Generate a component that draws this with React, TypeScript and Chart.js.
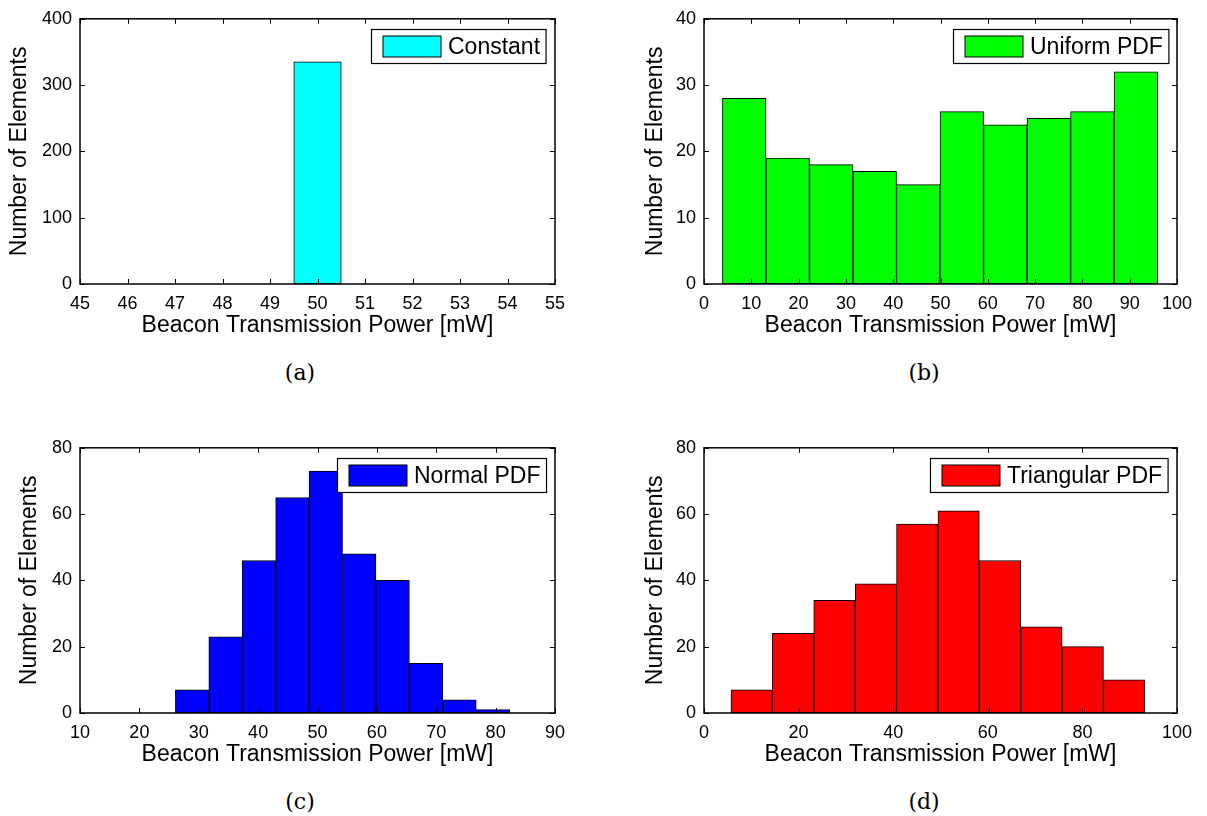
import React, { useEffect, useRef } from "react";
import { Chart, registerables } from "chart.js";

Chart.register(...registerables);

const SANS = '"Liberation Sans", Arial, Helvetica, sans-serif';
const SERIF = '"DejaVu Serif", "Liberation Serif", serif';

const X_TITLE = "Beacon Transmission Power [mW]";
const Y_TITLE = "Number of Elements";

// (a) constant beacon power: a single bin at 50 mW
const constantCenters = [50];
const constantCounts = [335];
const constantXAxis = [45, 55, 1];
const constantYAxis = [0, 400, 100];

// (b) uniform PDF
const uniformCenters = [8.5, 17.7, 26.9, 36.1, 45.3, 54.5, 63.7, 72.9, 82.1, 91.3];
const uniformCounts = [28, 19, 18, 17, 15, 26, 24, 25, 26, 32];
const uniformXAxis = [0, 100, 10];
const uniformYAxis = [0, 40, 10];

// (c) normal PDF
const normalCenters = [28.88, 34.51, 40.14, 45.77, 51.4, 57.03, 62.66, 68.29, 73.92, 79.55];
const normalCounts = [7, 23, 46, 65, 73, 48, 40, 15, 4, 1];
const normalXAxis = [10, 90, 10];
const normalYAxis = [0, 80, 20];

// (d) triangular PDF
const triangularCenters = [10.08, 18.83, 27.58, 36.33, 45.08, 53.83, 62.58, 71.33, 80.08, 88.83];
const triangularCounts = [7, 24, 34, 39, 57, 61, 46, 26, 20, 10];
const triangularXAxis = [0, 100, 20];
const triangularYAxis = [0, 80, 20];

type PanelProps = {
  name: string;
  color: string;
  centers: number[];
  counts: number[];
  xAxis: number[];
  yAxis: number[];
  left: number;
  top: number;
  width: number;
  height: number;
  yAxisWidth: number;
  padRight: number;
  yTitlePad: number;
};

// Box outline, inward tick marks on all four sides and an in-plot legend
const framePlugin = {
  id: "frame",
  afterDatasetsDraw(chart: any) {
    const { ctx, chartArea } = chart;
    const { left, right, top, bottom } = chartArea;
    const xs = chart.scales.x;
    const ys = chart.scales.y;
    const tick = 5;
    ctx.save();
    ctx.strokeStyle = "#000";
    ctx.lineWidth = 1;
    ctx.beginPath();
    xs.ticks.forEach((t: any) => {
      const px = Math.round(xs.getPixelForValue(t.value)) + 0.5;
      ctx.moveTo(px, bottom);
      ctx.lineTo(px, bottom - tick);
      ctx.moveTo(px, top);
      ctx.lineTo(px, top + tick);
    });
    ys.ticks.forEach((t: any) => {
      const py = Math.round(ys.getPixelForValue(t.value)) + 0.5;
      ctx.moveTo(left, py);
      ctx.lineTo(left + tick, py);
      ctx.moveTo(right, py);
      ctx.lineTo(right - tick, py);
    });
    ctx.stroke();
    ctx.lineWidth = 1.5;
    ctx.strokeRect(left, top, right - left, bottom - top);

    // legend
    const ds = chart.data.datasets[0];
    ctx.font = `23px ${SANS}`;
    const tw = ctx.measureText(ds.label).width;
    const boxH = 34;
    const padL = 11.5;
    const patchW = 58;
    const patchH = 21;
    const gap = 7;
    const padR = 6;
    const boxW = padL + patchW + gap + tw + padR;
    const bx = Math.round(right - 9 - boxW) + 0.5;
    const by = Math.round(top + 10) + 0.5;
    ctx.fillStyle = "#fff";
    ctx.fillRect(bx, by, boxW, boxH);
    ctx.lineWidth = 1.2;
    ctx.strokeRect(bx, by, boxW, boxH);
    const py = by + (boxH - patchH) / 2;
    ctx.fillStyle = ds.backgroundColor;
    ctx.fillRect(bx + padL, py, patchW, patchH);
    ctx.lineWidth = 1;
    ctx.strokeRect(bx + padL, py, patchW, patchH);
    ctx.fillStyle = "#000";
    ctx.textBaseline = "middle";
    ctx.textAlign = "left";
    ctx.fillText(ds.label, bx + padL + patchW + gap, by + boxH / 2 + 1);
    ctx.restore();
  },
};

function Panel(p: PanelProps) {
  const ref = useRef<HTMLCanvasElement | null>(null);
  useEffect(() => {
    const canvas = ref.current;
    if (!canvas) return;
    const plotTop = 12;
    const plotBottom = 284;
    const chart = new Chart(canvas, {
      type: "bar",
      data: {
        datasets: [
          {
            label: p.name,
            data: p.centers.map((x, i) => ({ x, y: p.counts[i] })),
            backgroundColor: p.color,
            borderColor: "#000",
            borderWidth: 1,
            borderSkipped: false,
            barPercentage: 1,
            categoryPercentage: 1,
          } as any,
        ],
      },
      options: {
        responsive: false,
        animation: false,
        devicePixelRatio: 1,
        layout: { padding: { top: plotTop, right: p.padRight, left: 0, bottom: 0 } },
        plugins: { legend: { display: false }, tooltip: { enabled: false } },
        scales: {
          x: {
            type: "linear",
            min: p.xAxis[0],
            max: p.xAxis[1],
            offset: false,
            grid: { display: false, drawTicks: false, offset: false },
            border: { display: false },
            ticks: {
              stepSize: p.xAxis[2],
              color: "#000",
              font: { family: SANS, size: 18 },
              padding: 9,
              maxRotation: 0,
              autoSkip: false,
            },
            title: {
              display: true,
              text: X_TITLE,
              color: "#000",
              font: { family: SANS, size: 23 },
              padding: { top: 0, bottom: 6 },
            },
            afterFit: (s: any) => {
              s.height = p.height - plotBottom;
            },
          },
          y: {
            type: "linear",
            min: p.yAxis[0],
            max: p.yAxis[1],
            grid: { display: false, drawTicks: false },
            border: { display: false },
            ticks: {
              stepSize: p.yAxis[2],
              color: "#000",
              font: { family: SANS, size: 18 },
              padding: 8,
            },
            title: {
              display: true,
              text: Y_TITLE,
              color: "#000",
              font: { family: SANS, size: 23 },
              padding: { top: p.yTitlePad, bottom: 0 },
            },
            afterFit: (s: any) => {
              s.width = p.yAxisWidth;
            },
          },
        },
      } as any,
      plugins: [framePlugin],
    });
    return () => chart.destroy();
  }, []);
  return (
    <canvas
      ref={ref}
      width={p.width}
      height={p.height}
      style={{ position: "absolute", left: p.left, top: p.top, width: p.width, height: p.height, display: "block" }}
    />
  );
}

function Caption({ text, x, y }: { text: string; x: number; y: number }) {
  return (
    <div
      style={{
        position: "absolute",
        left: x,
        top: y,
        transform: "translate(-50%, -50%)",
        fontFamily: SERIF,
        fontSize: 22,
        color: "#000",
        lineHeight: 1,
        whiteSpace: "nowrap",
      }}
    >
      {text}
    </div>
  );
}

export default function App() {
  return (
    <div style={{ position: "absolute", left: 0, top: 0, width: 1207, height: 816, background: "#fff", overflow: "hidden" }}>
      <Panel name="Constant" color="#00ffff" centers={constantCenters} counts={constantCounts}
        xAxis={constantXAxis} yAxis={constantYAxis}
        left={0} top={0} width={603} height={345} yAxisWidth={80} padRight={48} yTitlePad={6} />
      <Panel name="Uniform PDF" color="#00ff00" centers={uniformCenters} counts={uniformCounts}
        xAxis={uniformXAxis} yAxis={uniformYAxis}
        left={603} top={0} width={604} height={345} yAxisWidth={101} padRight={30} yTitlePad={39} />
      <Panel name="Normal PDF" color="#0000ff" centers={normalCenters} counts={normalCounts}
        xAxis={normalXAxis} yAxis={normalYAxis}
        left={0} top={429} width={603} height={345} yAxisWidth={80} padRight={48} yTitlePad={16} />
      <Panel name="Triangular PDF" color="#ff0000" centers={triangularCenters} counts={triangularCounts}
        xAxis={triangularXAxis} yAxis={triangularYAxis}
        left={603} top={429} width={604} height={345} yAxisWidth={101} padRight={30} yTitlePad={39} />
      <Caption text="(a)" x={300} y={373} />
      <Caption text="(b)" x={924} y={373} />
      <Caption text="(c)" x={300} y={802} />
      <Caption text="(d)" x={924} y={802} />
    </div>
  );
}
